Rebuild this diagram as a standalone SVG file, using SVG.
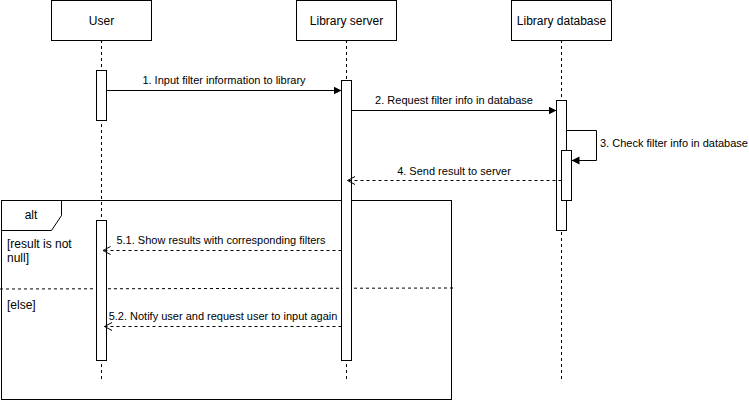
<svg xmlns="http://www.w3.org/2000/svg" width="749" height="401" viewBox="0 0 749 401">
<style>
.box{fill:#fff;stroke:#000;stroke-width:1}
.life{fill:none;stroke:#000;stroke-width:1;stroke-dasharray:3,3}
.t{font-family:"Liberation Sans",Arial,sans-serif;font-size:12px;fill:#000}
.m{font-family:"Liberation Sans",Arial,sans-serif;font-size:11px;fill:#000}
.sync{fill:none;stroke:#000;stroke-width:1;marker-end:url(#block)}
.ret{fill:none;stroke:#000;stroke-width:1;stroke-dasharray:3,3;marker-end:url(#open)}
</style>
<defs>
<marker id="block" markerWidth="10" markerHeight="10" refX="8" refY="4" orient="auto" markerUnits="userSpaceOnUse">
<path d="M0,0 L8,4 L0,8 Z" fill="#000"/>
</marker>
<marker id="open" markerWidth="10" markerHeight="10" refX="7.5" refY="4" orient="auto" markerUnits="userSpaceOnUse">
<path d="M0,0 L7.5,4 L0,8" fill="none" stroke="#000" stroke-width="1"/>
</marker>
</defs>
<rect width="749" height="401" fill="#fff"/>
<g id="frame-alt">
<rect x="1.5" y="200.5" width="450" height="199" fill="none" stroke="#000"/>
<path d="M1.5,200.5 L61.5,200.5 L61.5,215.5 L51.5,230.5 L1.5,230.5" fill="none" stroke="#000"/>
<text class="t" x="31" y="219" text-anchor="middle">alt</text>
<text class="t" x="7" y="248">[result is not</text>
<text class="t" x="7" y="262">null]</text>
<text class="t" x="7" y="309">[else]</text>
<line x1="0" y1="289" x2="453" y2="288" class="life"/>
</g>
<g id="lifelines">
<line x1="101.5" y1="40" x2="101.5" y2="380" class="life"/>
<line x1="346.5" y1="40" x2="346.5" y2="380" class="life"/>
<line x1="561.5" y1="40" x2="561.5" y2="380" class="life"/>
</g>
<g id="user">
<rect x="51.5" y="0.5" width="100" height="40" class="box"/>
<text class="t" x="101.5" y="24.5" text-anchor="middle">User</text>
<rect x="96.5" y="70.5" width="10" height="50" class="box"/>
<rect x="96.5" y="220.5" width="10" height="140" class="box"/>
</g>
<g id="server">
<rect x="296.5" y="0.5" width="100" height="40" class="box"/>
<text class="t" x="346.5" y="24.5" text-anchor="middle">Library server</text>
<rect x="341.5" y="80.5" width="10" height="280" class="box"/>
</g>
<g id="database">
<rect x="511.5" y="0.5" width="100" height="40" class="box"/>
<text class="t" x="561.5" y="24.5" text-anchor="middle">Library database</text>
<rect x="556.5" y="100.5" width="10" height="130" class="box"/>
<rect x="561.5" y="150.5" width="10" height="50" class="box"/>
</g>
<g id="connectors">
<line x1="106.5" y1="90.5" x2="341.5" y2="90.5" class="sync"/>
<text class="m" x="224" y="84" text-anchor="middle">1. Input filter information to library</text>
<line x1="351.5" y1="110.5" x2="556.5" y2="110.5" class="sync"/>
<text class="m" x="454" y="104" text-anchor="middle">2. Request filter info in database</text>
<path d="M566.5,130.5 L596.5,130.5 L596.5,160.5 L571.5,160.5" class="sync"/>
<text class="m" x="600" y="147">3. Check filter info in database</text>
<line x1="561.5" y1="180.5" x2="347.5" y2="180.5" class="ret"/>
<text class="m" x="454" y="175" text-anchor="middle">4. Send result to server</text>
<line x1="341.5" y1="250.5" x2="103" y2="250.5" class="ret"/>
<text class="m" x="221" y="244" text-anchor="middle">5.1. Show results with corresponding filters</text>
<line x1="341.5" y1="326.5" x2="104.5" y2="326.5" class="ret"/>
<text class="m" x="223" y="320" text-anchor="middle">5.2. Notify user and request user to input again</text>
</g>
</svg>
